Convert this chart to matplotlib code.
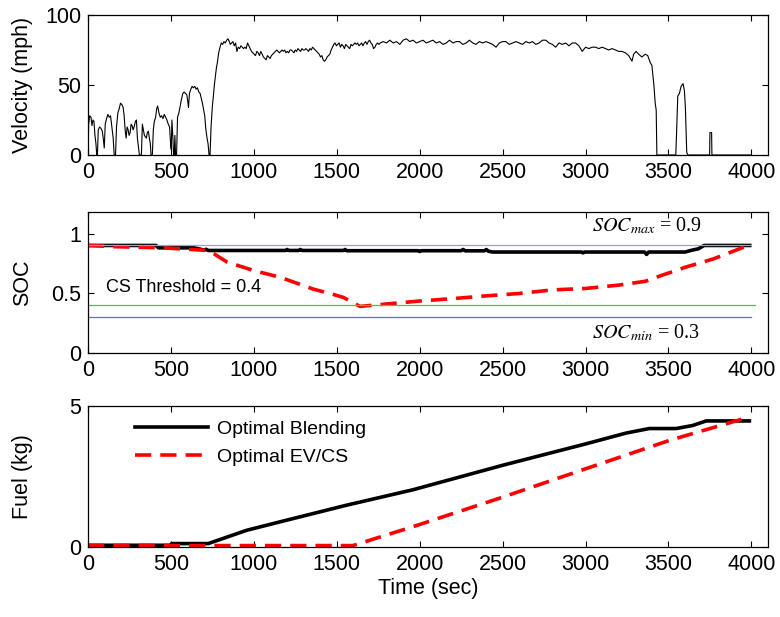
import matplotlib
matplotlib.use('Agg')
import matplotlib.pyplot as plt

plt.rcParams['font.family'] = ['Liberation Sans', 'DejaVu Sans']
plt.rcParams['font.size'] = 15.5
plt.rcParams['mathtext.fontset'] = 'stix'

# drive cycle: time (sec) and vehicle speed (mph)
t_vel = [0, 4, 10, 18, 24, 30, 36, 42, 48, 53, 57, 62, 70, 78, 86, 92, 98, 104, 112, 120,
         128, 136, 144, 152, 158, 166, 172, 180, 188, 196, 204, 212, 218, 224, 230, 236, 242, 248, 254, 260,
         266, 272, 278, 286, 292, 298, 304, 310, 322, 328, 334, 340, 346, 352, 358, 364, 370, 376, 380, 388,
         394, 400, 408, 414, 420, 428, 436, 444, 452, 460, 468, 476, 484, 492, 498, 502, 506, 512, 516, 520,
         524, 528, 534, 540, 548, 556, 564, 572, 580, 588, 596, 602, 606, 612, 620, 628, 636, 644, 652, 660,
         668, 676, 684, 690, 698, 704, 710, 718, 724, 730, 736, 742, 750, 756, 762, 768, 774, 780, 788, 796,
         804, 812, 820, 828, 836, 844, 852, 858, 866, 874, 882, 890, 898, 906, 914, 922, 930, 938, 946, 954,
         962, 970, 978, 986, 994, 1002, 1010, 1018, 1026, 1034, 1042, 1050, 1058, 1066, 1074, 1082, 1090, 1098, 1106, 1114,
         1122, 1130, 1138, 1146, 1154, 1162, 1170, 1178, 1186, 1194, 1202, 1210, 1218, 1226, 1234, 1242, 1250, 1258, 1266, 1274,
         1282, 1290, 1298, 1306, 1314, 1322, 1330, 1338, 1346, 1354, 1362, 1370, 1378, 1386, 1394, 1402, 1410, 1418, 1426, 1434,
         1442, 1450, 1458, 1466, 1474, 1482, 1490, 1498, 1506, 1514, 1522, 1530, 1538, 1546, 1554, 1562, 1570, 1578, 1586, 1594,
         1602, 1610, 1618, 1626, 1634, 1642, 1650, 1658, 1666, 1674, 1682, 1690, 1698, 1706, 1714, 1722, 1730, 1738, 1746, 1754,
         1762, 1780, 1800, 1820, 1840, 1860, 1880, 1900, 1920, 1940, 1960, 1980, 2000, 2020, 2040, 2060, 2080, 2100, 2120, 2140,
         2160, 2180, 2200, 2220, 2240, 2260, 2280, 2300, 2320, 2340, 2360, 2380, 2400, 2420, 2440, 2460, 2480, 2500, 2520, 2540,
         2560, 2580, 2600, 2620, 2640, 2660, 2680, 2700, 2720, 2740, 2760, 2780, 2800, 2820, 2840, 2860, 2880, 2900, 2920, 2940,
         2960, 2980, 3000, 3020, 3040, 3060, 3080, 3100, 3120, 3140, 3160, 3180, 3200, 3220, 3240, 3260, 3280, 3290, 3305, 3320,
         3340, 3360, 3375, 3390, 3400, 3412, 3420, 3426, 3430, 3544, 3548, 3556, 3566, 3576, 3588, 3596, 3602, 3610, 3616, 3748,
         3750, 3760, 3762, 4000]
vel = [0, 22, 28, 27, 21, 25, 24, 14, 8, 0, 0, 18, 20, 19, 17, 12, 5, 22, 26, 29,
       27, 28, 20, 12, 0, 0, 20, 30, 33, 37, 36, 34, 28, 18, 12, 20, 18, 14, 16, 22,
       21, 18, 20, 24, 25, 12, 6, 0, 0, 22, 18, 14, 13, 12, 16, 17, 12, 8, 0, 0,
       18, 24, 27, 33, 35, 30, 27, 28, 26, 29, 27, 25, 22, 20, 8, 4, 25, 12, 0, 0,
       14, 0, 0, 27, 30, 35, 40, 44, 45, 44, 43, 38, 34, 44, 47, 49, 48, 49, 47, 48,
       45, 44, 40, 37, 32, 28, 19, 12, 8, 0, 0, 20, 35, 42, 50, 56, 62, 66, 73, 77,
       80, 79, 81, 80, 82, 83, 81, 79, 80, 81, 78, 80, 74, 77, 76, 78, 77, 76, 77, 76,
       80, 78, 76, 74, 73, 72, 71, 74, 73, 71, 74, 72, 70, 69, 68, 71, 70, 69, 71, 72,
       73, 74, 75, 74, 73, 74, 75, 74, 75, 73, 74, 73, 75, 75, 74, 73, 75, 74, 76, 75,
       74, 76, 75, 75, 76, 75, 74, 76, 75, 77, 76, 75, 74, 73, 72, 70, 71, 68, 67, 68,
       70, 71, 72, 75, 77, 79, 80, 78, 79, 80, 77, 79, 78, 76, 79, 78, 77, 76, 79, 78,
       79, 80, 79, 80, 78, 79, 80, 78, 80, 81, 79, 81, 82, 80, 79, 76, 77, 79, 80, 79,
       80, 81, 80, 82, 80, 81, 79, 82, 83, 81, 82, 80, 81, 82, 80, 81, 82, 80, 81, 79,
       80, 82, 80, 81, 81, 79, 80, 82, 80, 79, 81, 80, 81, 80, 79, 77, 80, 81, 81, 79,
       80, 81, 80, 79, 81, 80, 81, 79, 80, 82, 82, 80, 79, 77, 80, 79, 80, 78, 80, 80,
       78, 74, 77, 76, 77, 77, 76, 77, 76, 75, 76, 75, 74, 74, 73, 71, 67, 72, 74, 72,
       70, 72, 71, 66, 64, 50, 37, 32, 0, 0, 13, 42, 44, 49, 51, 46, 34, 2, 0, 0,
       16, 16, 0, 0]

# battery state of charge
t_soc_blend = [0, 410, 425, 640, 680, 700, 712, 725, 1190, 1200, 1212, 1270, 1280, 1292, 1540, 1550, 1560,
               1990, 2000, 2010, 2250, 2262, 2274, 2390, 2402, 2414, 2440, 2975, 2985, 2995, 3355, 3368, 3380,
               3600, 3640, 3680, 3715, 3990]
soc_blend = [0.9, 0.9, 0.88, 0.88, 0.868, 0.86, 0.868, 0.858, 0.858, 0.866, 0.858, 0.858, 0.866, 0.858,
             0.858, 0.866, 0.856, 0.856, 0.85, 0.856, 0.856, 0.866, 0.855, 0.855, 0.866, 0.852, 0.845, 0.845,
             0.838, 0.845, 0.845, 0.825, 0.845, 0.845, 0.86, 0.872, 0.9, 0.9]
t_soc_evcs = [0, 150, 450, 700, 760, 840, 1000, 1160, 1360, 1480, 1540, 1640, 1760, 1880, 2000, 2200,
              2400, 2600, 2800, 3000, 3200, 3360, 3450, 3600, 3770, 3990]
soc_evcs = [0.9, 0.89, 0.88, 0.86, 0.83, 0.76, 0.69, 0.633, 0.534, 0.49, 0.465, 0.39, 0.405, 0.42, 0.435,
            0.455, 0.478, 0.498, 0.528, 0.54, 0.568, 0.60, 0.645, 0.717, 0.787, 0.905]
soc_max = 0.9
soc_min = 0.3
cs_threshold = 0.4

# cumulative fuel use (kg)
t_fuel_blend = [0, 495, 505, 725, 956, 1157, 1558, 1960, 2502, 3004, 3245, 3384, 3546, 3647, 3727, 3988]
fuel_blend = [0.06, 0.06, 0.12, 0.12, 0.59, 0.89, 1.48, 2.03, 2.9, 3.66, 4.04, 4.2, 4.2, 4.31, 4.47, 4.47]
t_fuel_evcs = [0, 1598, 1759, 1960, 2502, 3004, 3506, 3988]
fuel_evcs = [0.05, 0.05, 0.35, 0.72, 1.77, 2.78, 3.78, 4.61]

xticks = [0, 500, 1000, 1500, 2000, 2500, 3000, 3500, 4000]

fig = plt.figure(figsize=(7.8, 6.17), dpi=100)
ax1 = fig.add_axes([0.1128, 0.7488, 0.8718, 0.2269])
ax2 = fig.add_axes([0.1128, 0.4279, 0.8718, 0.2285])
ax3 = fig.add_axes([0.1128, 0.1135, 0.8718, 0.2285])

for ax in (ax1, ax2, ax3):
    ax.set_xlim(0, 4100)
    ax.set_xticks(xticks)
    ax.tick_params(direction='in', top=True, right=True, length=4, width=0.8, pad=5)
    for sp in ax.spines.values():
        sp.set_linewidth(0.9)
    ax.yaxis.set_label_coords(-0.081, 0.5)

# velocity
ax1.plot(t_vel, vel, color='black', lw=0.8)
ax1.set_ylim(0, 100)
ax1.set_yticks([0, 50, 100])
ax1.set_ylabel('Velocity (mph)')

# SOC
ax2.plot(t_soc_blend, soc_blend, color='black', lw=2.6)
ax2.plot(t_soc_evcs, soc_evcs, color='red', lw=2.6, dashes=(4.5, 2.5))
ax2.plot([0, 4000], [soc_max, soc_max], color='#9a9af5', lw=0.9)
ax2.plot([0, 4020], [cs_threshold, cs_threshold], color='#22dd22', lw=0.9)
ax2.plot([0, 4000], [soc_min, soc_min], color='#6464e6', lw=0.9)
ax2.set_ylim(0, 1.18)
ax2.set_yticks([0, 0.5, 1])
ax2.set_yticklabels(['0', '0.5', '1'])
ax2.set_ylabel('SOC')
ax2.text(110, 0.55, 'CS Threshold = 0.4', fontsize=13, va='center')
ax2.text(3040, 1.06, r'$SOC_{max}$ = 0.9', fontsize=14.5, family='Liberation Serif', va='center')
ax2.text(3040, 0.17, r'$SOC_{min}$ = 0.3', fontsize=14.5, family='Liberation Serif', va='center')

# fuel
ax3.plot(t_fuel_blend, fuel_blend, color='black', lw=2.6, label='Optimal Blending')
ax3.plot(t_fuel_evcs, fuel_evcs, color='red', lw=2.6, dashes=(4.5, 2.5), label='Optimal EV/CS')
ax3.set_ylim(0, 5)
ax3.set_yticks([0, 5])
ax3.set_ylabel('Fuel (kg)')
ax3.set_xlabel('Time (sec)', labelpad=2)
ax3.legend(loc='upper left', bbox_to_anchor=(0.069, 0.9), frameon=False, fontsize=14,
           handlelength=3.75, handletextpad=0.45, borderpad=0, borderaxespad=0, labelspacing=0.55)

fig.savefig('out.png', dpi=100)
